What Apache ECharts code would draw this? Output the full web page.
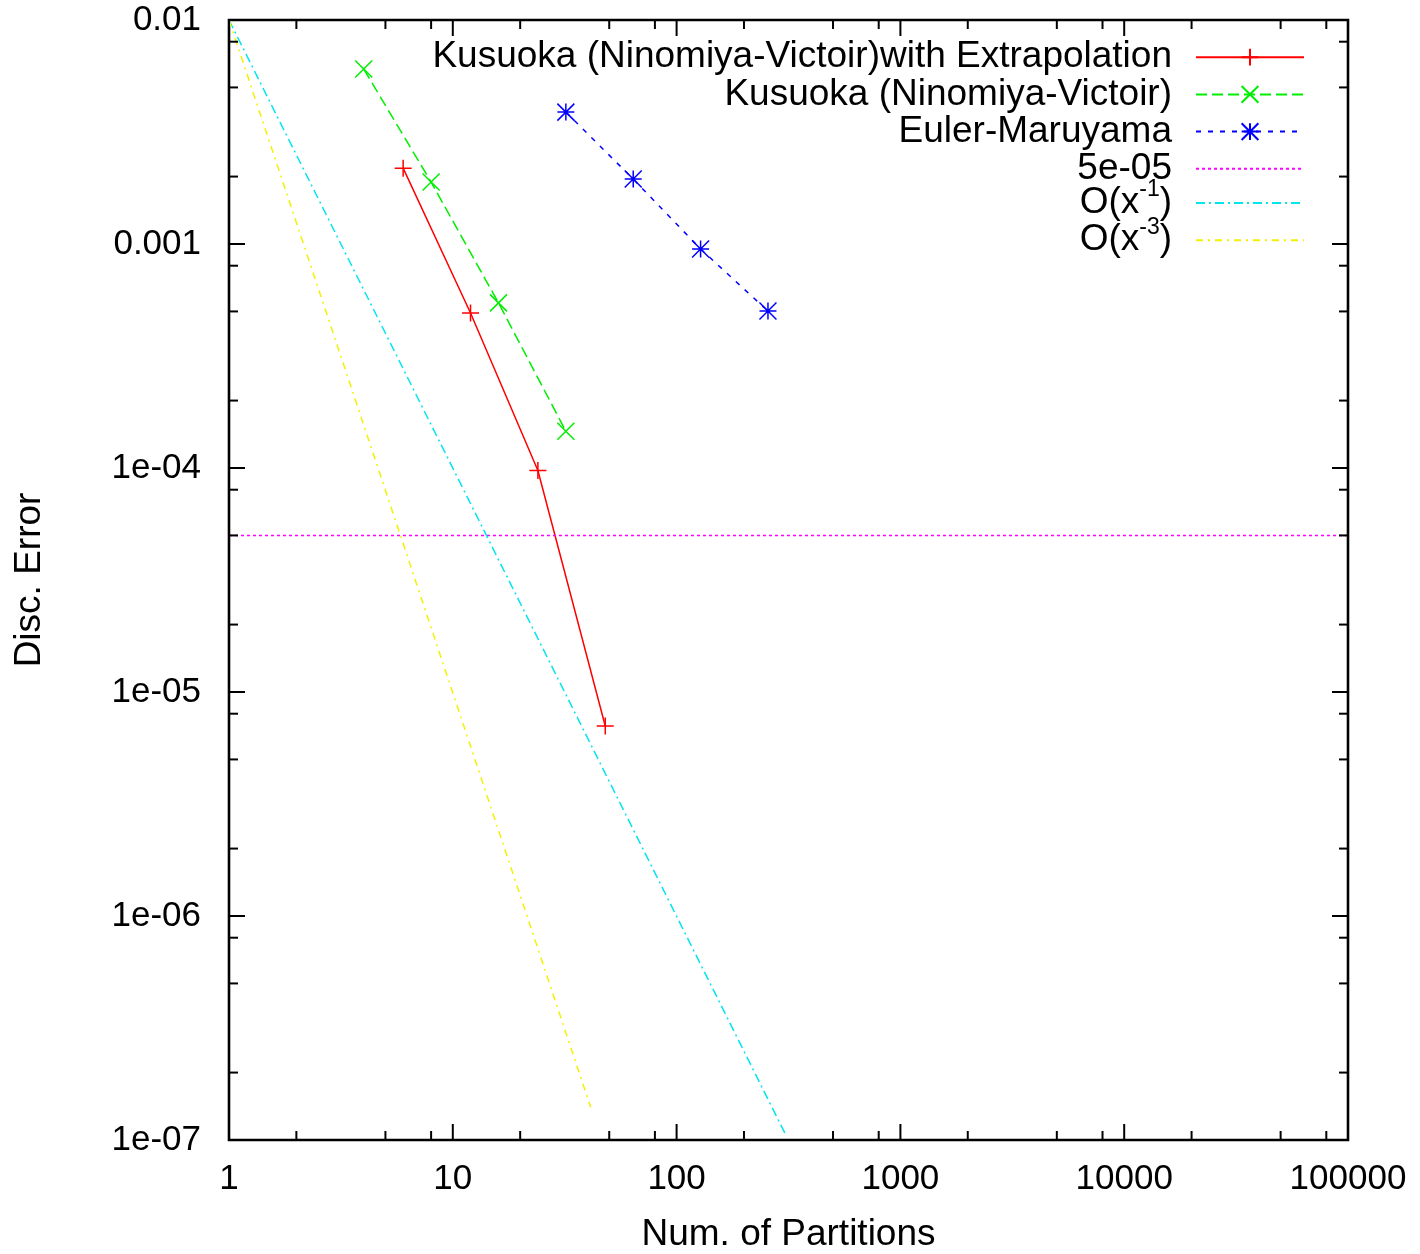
<!DOCTYPE html>
<html>
<head>
<meta charset="utf-8">
<script src="https://cdn.jsdelivr.net/npm/echarts@6/dist/echarts.min.js"></script>
<style>
html,body{margin:0;padding:0;background:#ffffff;}
#chart{width:1420px;height:1254px;}
</style>
</head>
<body>
<div id="chart"></div>
<script>
// ---- data ----
const extrapX = [6, 12, 24, 48];
const extrapY = [0.00218, 0.000492, 0.0000975, 0.00000705];
const kusuokaX = [4, 8, 16, 32];
const kusuokaY = [0.00604, 0.00189, 0.000546, 0.000146];
const eulerX = [32, 64, 128, 256];
const eulerY = [0.00388, 0.00195, 0.00095, 0.000502];
const thresholdX = [1, 100000];
const thresholdY = [5e-5, 5e-5];
const order1X = [1, 308];
const order1Y = [0.01, 1.05e-7];
const order3X = [1, 41.3];
const order3Y = [0.01, 1.4e-7];

const seriesNames = [
  'Kusuoka (Ninomiya-Victoir)with Extrapolation',
  'Kusuoka (Ninomiya-Victoir)',
  'Euler-Maruyama',
  '5e-05',
  'O(x^-1)',
  'O(x^-3)'
];
const xTickLabels = ['1', '10', '100', '1000', '10000', '100000'];
const yTickLabels = ['1e-07', '1e-06', '1e-05', '1e-04', '0.001', '0.01'];
const xMajorTicks = [1, 10, 100, 1000, 10000, 100000];
const xMinorTicks = [2, 5, 8, 20, 50, 80, 200, 500, 800, 2000, 5000, 8000, 20000, 50000, 80000];
const yMajorTicks = [1e-7, 1e-6, 1e-5, 1e-4, 1e-3, 1e-2];
const yMinorTicks = [2e-7, 5e-7, 8e-7, 2e-6, 5e-6, 8e-6, 2e-5, 5e-5, 8e-5, 2e-4, 5e-4, 8e-4, 2e-3, 5e-3, 8e-3];

const X_MIN = 1, X_MAX = 100000, Y_MIN = 1e-7, Y_MAX = 0.01;
const FONT = '"Liberation Sans", Arial, Helvetica, sans-serif';

function zip(xs, ys) { return xs.map((x, i) => [x, ys[i]]); }
function isPow10(v) { const e = Math.log10(v); return Math.abs(e - Math.round(e)) < 1e-9; }

const PLUS = 'path://M0,5L10,5M5,0L5,10';
const CROSS = 'path://M0,0L10,10M10,0L0,10';
const STAR = 'path://M0,5L10,5M5,0L5,10M0,0L10,10M10,0L0,10';

function lineSeries(name, data, color, dash, symbol) {
  return {
    name: name,
    type: 'line',
    data: data,
    symbol: symbol || 'none',
    symbolSize: 17,
    showSymbol: !!symbol,
    z: 3,
    lineStyle: { color: color, width: 1.5, type: dash },
    itemStyle: symbol
      ? { color: color, borderColor: color, borderWidth: 1.5 }
      : { color: color, opacity: 0 },
    emphasis: { disabled: true },
    animation: false
  };
}

function tickRenderer(isX) {
  return function (params, api) {
    const v = api.value(isX ? 0 : 1);
    const len = isPow10(v) ? 16 : 9;
    const style = { stroke: '#000', lineWidth: 2 };
    if (isX) {
      const b = api.coord([v, Y_MIN]);
      const t = api.coord([v, Y_MAX]);
      return { type: 'group', children: [
        { type: 'line', shape: { x1: b[0], y1: b[1], x2: b[0], y2: b[1] - len }, style: style },
        { type: 'line', shape: { x1: t[0], y1: t[1], x2: t[0], y2: t[1] + len }, style: style }
      ]};
    } else {
      const l = api.coord([X_MIN, v]);
      const r = api.coord([X_MAX, v]);
      return { type: 'group', children: [
        { type: 'line', shape: { x1: l[0], y1: l[1], x2: l[0] + len, y2: l[1] }, style: style },
        { type: 'line', shape: { x1: r[0], y1: r[1], x2: r[0] - len, y2: r[1] }, style: style }
      ]};
    }
  };
}

function legendFormatter(name) {
  const m = name.match(/^O\(x\^(-\d)\)$/);
  if (m) return 'O(x{sup|' + m[1] + '})';
  return name;
}

const legends = seriesNames.map((n, i) => {
  const rich = n.indexOf('^') >= 0;
  const hasSymbol = i < 3;
  const l = {
    data: [n],
    orient: 'vertical',
    right: 115,
    top: 55.7 + i * 37.2 - (rich ? 26 : 17),
    align: 'right',
    itemWidth: 108,
    itemHeight: 21,
    padding: 0,
    selectedMode: false,
    formatter: legendFormatter,
    textStyle: {
      fontSize: 37,
      fontFamily: FONT,
      color: '#000',
      padding: [0, 19, 0, 0],
      rich: {
        sup: { fontSize: 23, fontFamily: FONT, color: '#000', padding: [0, 0, 26, 0] }
      }
    }
  };
  if (!hasSymbol) l.itemStyle = { opacity: 0 };
  return l;
});

const option = {
  backgroundColor: '#ffffff',
  animation: false,
  grid: {
    left: 229, right: 72, top: 20, bottom: 114,
    show: true, borderColor: '#000', borderWidth: 2.6, backgroundColor: 'transparent',
    containLabel: false, outerBoundsMode: 'none'
  },
  legend: legends,
  xAxis: {
    type: 'log', logBase: 10, min: X_MIN, max: X_MAX, splitNumber: 5,
    name: 'Num. of Partitions', nameLocation: 'middle', nameGap: 76,
    nameTextStyle: { fontSize: 37, fontFamily: FONT, color: '#000' },
    axisLine: { show: false }, axisTick: { show: false }, splitLine: { show: false },
    axisLabel: {
      fontSize: 35, fontFamily: FONT, color: '#000', margin: 22,
      showMinLabel: true, showMaxLabel: true,
      formatter: v => xTickLabels[Math.round(Math.log10(v))]
    }
  },
  yAxis: {
    type: 'log', logBase: 10, min: Y_MIN, max: Y_MAX, splitNumber: 5,
    name: 'Disc. Error', nameLocation: 'middle', nameGap: 181, nameRotate: 90,
    nameTextStyle: { fontSize: 37, fontFamily: FONT, color: '#000' },
    axisLine: { show: false }, axisTick: { show: false }, splitLine: { show: false },
    axisLabel: {
      fontSize: 35, fontFamily: FONT, color: '#000', margin: 28,
      showMinLabel: true, showMaxLabel: true,
      formatter: v => yTickLabels[Math.round(Math.log10(v)) + 7]
    }
  },
  series: [
    lineSeries(seriesNames[0], zip(extrapX, extrapY), '#ff0000', 'solid', PLUS),
    lineSeries(seriesNames[1], zip(kusuokaX, kusuokaY), '#00ee00', [11, 5], CROSS),
    lineSeries(seriesNames[2], zip(eulerX, eulerY), '#0000ff', [5, 7], STAR),
    lineSeries(seriesNames[3], zip(thresholdX, thresholdY), '#ff00ff', [3, 3]),
    lineSeries(seriesNames[4], zip(order1X, order1Y), '#00e5ee', [9, 4, 2, 4]),
    lineSeries(seriesNames[5], zip(order3X, order3Y), '#f2f200', [7, 5, 2, 5]),
    {
      type: 'custom', silent: true, z: 5, animation: false,
      data: xMajorTicks.concat(xMinorTicks).map(v => [v, Y_MIN]),
      renderItem: tickRenderer(true)
    },
    {
      type: 'custom', silent: true, z: 5, animation: false,
      data: yMajorTicks.concat(yMinorTicks).map(v => [X_MIN, v]),
      renderItem: tickRenderer(false)
    }
  ]
};

const chart = echarts.init(document.getElementById('chart'), null, { renderer: 'canvas' });
chart.setOption(option);
</script>
</body>
</html>
